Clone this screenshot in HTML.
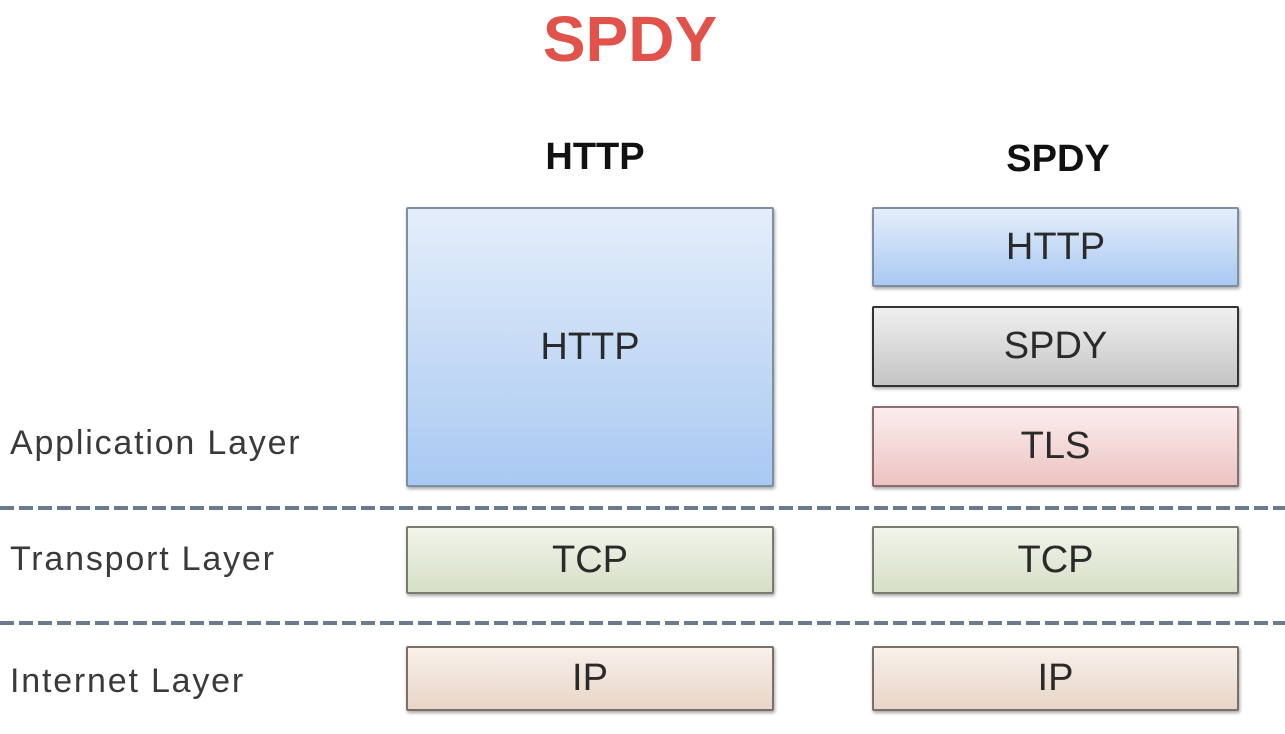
<!DOCTYPE html>
<html><head><style>
body{margin:0;width:1285px;height:734px;background:#fff;position:relative;overflow:hidden;font-family:"Liberation Sans",sans-serif}
.a{position:absolute}
.b{position:absolute;box-sizing:border-box;border:2px solid #777;border-radius:2px;display:flex;align-items:center;justify-content:center;font-size:38px;color:#2a2a2a;box-shadow:1px 2px 3px rgba(0,0,0,.35)}
.lbl{position:absolute;left:10px;font-size:34px;letter-spacing:1.8px;color:#3a3a3a}
.dash{position:absolute;left:0;width:1285px;height:4px;background:repeating-linear-gradient(90deg,#6b7a8c 0 14px,transparent 14px 19px)}
.h{position:absolute;font-size:38px;color:#111;font-weight:bold;transform:translateX(-50%)}
</style></head><body>
<div class="a" style="left:630px;top:2px;transform:translateX(-50%);font-size:64px;font-weight:bold;color:#e0524a">SPDY</div>
<div class="h" style="left:595px;top:136px">HTTP</div>
<div class="h" style="left:1058px;top:138px">SPDY</div>
<div class="b" style="left:406px;top:207px;width:368px;height:280px;background:linear-gradient(#e4eefa,#a9c9f2);border-color:#7f8fa3">HTTP</div>
<div class="b" style="left:872px;top:207px;width:367px;height:80px;background:linear-gradient(#e4eefa,#a9c9f2);border-color:#7f8fa3">HTTP</div>
<div class="b" style="left:872px;top:306px;width:367px;height:81px;background:linear-gradient(#f0f0f0,#c4c4c4);border-color:#333">SPDY</div>
<div class="b" style="left:872px;top:406px;width:367px;height:81px;background:linear-gradient(#fbeeee,#ecc3c1);border-color:#8a6e6e">TLS</div>
<div class="dash" style="top:506px"></div>
<div class="b" style="left:406px;top:526px;width:368px;height:68px;background:linear-gradient(#f1f4ea,#d6dfc6);border-color:#7a7a6e">TCP</div>
<div class="b" style="left:872px;top:526px;width:367px;height:68px;background:linear-gradient(#f1f4ea,#d6dfc6);border-color:#7a7a6e">TCP</div>
<div class="dash" style="top:621px"></div>
<div class="b" style="left:406px;top:646px;width:368px;height:65px;background:linear-gradient(#f8f0ea,#e8d5c7);border-color:#7a7068">IP</div>
<div class="b" style="left:872px;top:646px;width:367px;height:65px;background:linear-gradient(#f8f0ea,#e8d5c7);border-color:#7a7068">IP</div>
<div class="lbl" style="top:424px">Application Layer</div>
<div class="lbl" style="top:540px">Transport Layer</div>
<div class="lbl" style="top:662px">Internet Layer</div>
</body></html>
